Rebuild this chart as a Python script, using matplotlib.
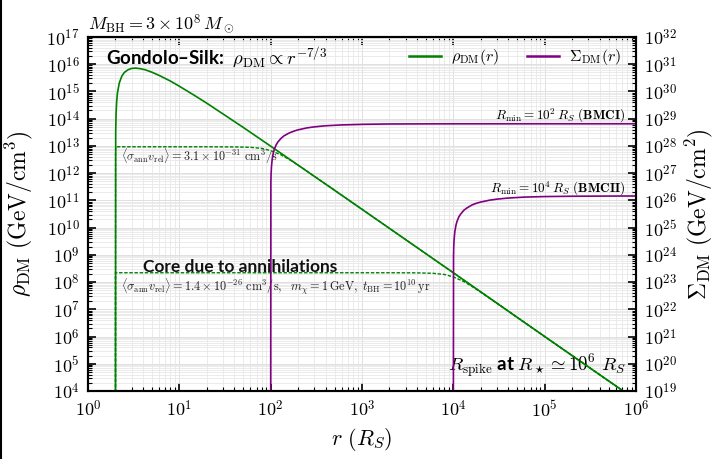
import numpy as np
import matplotlib
matplotlib.use("Agg")
import matplotlib.pyplot as plt
from matplotlib.ticker import LogLocator, FuncFormatter, NullFormatter
from matplotlib.lines import Line2D

plt.rcParams['mathtext.fontset'] = 'cm'
plt.rcParams['font.family'] = ['Lato', 'DejaVu Sans']

# ── Datos ─────────────────────────────────────────────────────────────────
# rho_DM(r): perfil Gondolo-Silk  [GeV/cm^3]
r_rho = [2.0, 2.01, 2.03, 2.06, 2.1, 2.2, 2.35, 2.5, 2.75, 3.0, 3.3, 3.7, 4.2,
         5, 6, 8, 10, 15, 20, 30, 50, 100, 1e3, 1e4, 1e5, 1e6]
rho = [1e3, 3.2e13, 1.6e14, 4.3e14, 8.7e14, 2.05e15, 3.7e15, 5.0e15, 6.3e15,
       7.0e15, 7.2e15, 6.9e15, 6.3e15, 5.1e15, 3.9e15, 2.4e15, 1.56e15,
       6.8e14, 3.7e14, 1.5e14, 4.8e13, 9.8e12, 4.7e10, 2.2e8, 1.0e6, 4.7e3]

# núcleo por aniquilación, <sigma v> = 3.1e-31
r_core1 = [2.0, 2.003, 2.01, 2.03, 2.1, 5, 20, 40, 60, 80, 100, 130, 170,
           220, 300, 500, 1e3, 1e4, 1e5, 1e6]
core1 = [1e3, 4.7e12, 8.9e12, 9.3e12, 9.3e12, 9.3e12, 9.3e12, 9.2e12, 8.9e12,
         8.1e12, 6.7e12, 4.7e12, 2.8e12, 1.58e12, 7.7e11, 2.4e11, 4.7e10,
         2.2e8, 1.0e6, 4.7e3]

# núcleo por aniquilación, <sigma v> = 1.4e-26
r_core2 = [2.0, 2.0001, 2000, 4000, 6000, 8000, 1e4, 1.3e4, 1.7e4, 2.2e4,
           3e4, 1e5, 1e6]
core2 = [1e3, 2.2e8, 2.2e8, 2.18e8, 2.1e8, 1.9e8, 1.55e8, 1.05e8, 6.1e7,
         3.4e7, 1.67e7, 1.0e6, 4.7e3]

# Sigma_DM(r) [GeV/cm^2], R_min = 1e2 R_S (BMCI)
r_sig1 = [100, 100.5, 101, 102, 104, 107, 110, 115, 120, 130, 140, 160, 180,
          200, 250, 300, 400, 600, 1e3, 2e3, 5e3, 1e4, 1e5, 1e6]
sig1 = [1e17, 4.3e26, 8.6e26, 1.7e27, 3.3e27, 5.6e27, 7.8e27, 1.1e28, 1.4e28,
        1.9e28, 2.35e28, 3.0e28, 3.5e28, 3.9e28, 4.6e28, 5.0e28, 5.5e28,
        5.9e28, 6.2e28, 6.4e28, 6.46e28, 6.49e28, 6.5e28, 6.5e28]

# Sigma_DM(r), R_min = 1e4 R_S (BMCII)
r_sig2 = [1e4, 1.005e4, 1.01e4, 1.02e4, 1.04e4, 1.07e4, 1.1e4, 1.15e4, 1.2e4,
          1.3e4, 1.4e4, 1.6e4, 1.8e4, 2e4, 2.5e4, 3e4, 4e4, 6e4, 1e5, 2e5,
          5e5, 1e6]
sig2 = [1e17, 9.6e23, 1.9e24, 3.8e24, 7.4e24, 1.25e25, 1.73e25, 2.5e25,
        3.1e25, 4.3e25, 5.2e25, 6.8e25, 7.9e25, 8.7e25, 1.02e26, 1.11e26,
        1.22e26, 1.32e26, 1.38e26, 1.42e26, 1.44e26, 1.45e26]

# ── Figura ────────────────────────────────────────────────────────────────
W, H = 721, 459
fig = plt.figure(figsize=(W / 100, H / 100), dpi=100)
ax = fig.add_axes([88 / W, 1 - 391 / H, (636 - 88) / W, (391 - 37) / H])
ax2 = ax.twinx()

ax.plot(r_rho, rho, color='green', lw=1.2, zorder=3)
ax.plot(r_core1, core1, color='green', lw=1.0, ls=(0, (2.5, 1.2)), zorder=4)
ax.plot(r_core2, core2, color='green', lw=1.0, ls=(0, (2.5, 1.2)), zorder=4)
ax2.plot(r_sig1, sig1, color='purple', lw=1.2)
ax2.plot(r_sig2, sig2, color='purple', lw=1.2)

ax.set_xscale('log')
ax.set_yscale('log')
ax2.set_yscale('log')
ax.set_xlim(1, 1e6)
ax.set_ylim(1e4, 1e17)
ax2.set_ylim(1e19, 1e32)

pow_fmt = FuncFormatter(lambda v, p: r'$10^{%d}$' % round(np.log10(v)))
for a in (ax, ax2):
    a.yaxis.set_major_locator(LogLocator(base=10, numticks=20))
    a.yaxis.set_minor_locator(LogLocator(base=10, subs=np.arange(2, 10), numticks=20))
    a.yaxis.set_major_formatter(pow_fmt)
    a.yaxis.set_minor_formatter(NullFormatter())
ax.xaxis.set_major_locator(LogLocator(base=10, numticks=10))
ax.xaxis.set_minor_locator(LogLocator(base=10, subs=np.arange(2, 10), numticks=10))
ax.xaxis.set_major_formatter(pow_fmt)

ax.tick_params(which='both', direction='in', top=True, right=False, labelsize=13, pad=6)
ax.tick_params(which='major', length=6, width=1.2)
ax.tick_params(which='minor', length=3, width=0.8)
ax2.tick_params(axis='y', which='both', direction='in', labelsize=13, pad=6)
ax2.tick_params(axis='y', which='major', length=6, width=1.2)
ax2.tick_params(axis='y', which='minor', length=3, width=0.8)

ax.grid(True, which='major', color='#e0e0e0', lw=0.7)
ax.grid(True, which='minor', color='#e8e8e8', lw=0.6)
ax.set_axisbelow(True)
for a in (ax, ax2):
    for s in a.spines.values():
        s.set_linewidth(1.5)

ax.set_xlabel(r'$r\ (R_S)$', fontsize=16, labelpad=4)
ax.set_ylabel(r'$\rho_{\rm DM}\ ({\rm GeV/cm^3})$', fontsize=17, labelpad=8)
ax2.set_ylabel(r'$\Sigma_{\rm DM}\ ({\rm GeV/cm^2})$', fontsize=17, labelpad=4)

fig.text(88 / W, 1 - 24 / H, r'$M_{\rm BH} = 3\times10^8\,M_\odot$', fontsize=13,
         va='center', ha='left')

ax.text(1.57, 1.7e16, r'Gondolo–Silk:  $\rho_{\rm DM}\propto r^{\mathbf{-7/3}}$',
        fontsize=13.5, fontweight='bold', va='center', ha='left')
ax.text(2.3, 4.2e12, r'$\langle\sigma_{\rm ann}v_{\rm rel}\rangle = 3.1\times10^{-31}\ {\rm cm^3/s}$',
        fontsize=8.7, va='center', ha='left', color='#222222')
ax.text(4.0, 3.7e8, 'Core due to annihilations', fontsize=12.5, fontweight='bold',
        va='center', ha='left', color='#111111')
ax.text(2.3, 6.5e7, r'$\langle\sigma_{\rm ann}v_{\rm rel}\rangle = 1.4\times10^{-26}\ {\rm cm^3/s},\ \ m_\chi = 1\,{\rm GeV},\ t_{\rm BH} = 10^{10}\,{\rm yr}$',
        fontsize=8.8, va='center', ha='left', color='#222222')
ax.text(7.7e5, 1.25e14, r'$R_{\rm min} = 10^2\,R_S\ (\mathbf{BMCI})$', fontsize=9.5,
        va='center', ha='right')
ax.text(7.7e5, 2.6e11, r'$R_{\rm min} = 10^4\,R_S\ (\mathbf{BMCII})$', fontsize=9.5,
        va='center', ha='right')
ax.text(7.7e5, 8.5e4, r'$R_{\rm spike}$ at $R_\star\simeq\mathbf{10^6}\ R_S$', fontsize=13.5,
        fontweight='bold', va='center', ha='right')

handles = [Line2D([], [], color='green', lw=1.8), Line2D([], [], color='purple', lw=1.8)]
ax2.legend(handles, [r'$\rho_{\rm DM}(r)$', r'$\Sigma_{\rm DM}(r)$'], ncol=2,
           frameon=False, fontsize=11.5, loc='center right', borderaxespad=0,
           bbox_to_anchor=(0.985, 0.943), handlelength=2.0, handletextpad=0.65,
           columnspacing=1.75)

# borde negro a la izquierda
fig.add_artist(Line2D([0.0015, 0.0015], [0, 1], color='black', lw=1.5,
                      transform=fig.transFigure))

fig.savefig('out.png', dpi=100)
